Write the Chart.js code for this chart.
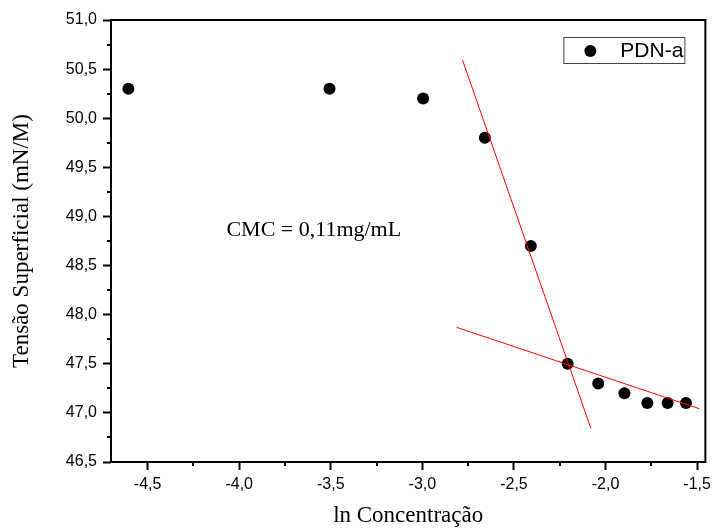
<!DOCTYPE html>
<html>
<head>
<meta charset="utf-8">
<script src="https://cdn.jsdelivr.net/npm/chart.js@4"></script>
<style>
  html, body { margin: 0; padding: 0; background: #fff; }
  #wrap { width: 716px; height: 530px; }
</style>
</head>
<body>
<div id="wrap"><canvas id="c" width="716" height="530"></canvas></div>
<script>
// ln of concentration (mg/mL) and measured surface tension (mN/m)
const lnConcentration = [-4.605, -3.507, -2.996, -2.659, -2.408, -2.207, -2.040, -1.897, -1.772, -1.661, -1.561];
const surfaceTension  = [50.3, 50.3, 50.2, 49.8, 48.7, 47.5, 47.3, 47.2, 47.1, 47.1, 47.1];

// two linear fits whose crossing gives the CMC
const steepFitX   = [-2.781, -2.080];
const steepFitY   = [50.593, 46.842];
const plateauFitX = [-2.813, -1.487];
const plateauFitY = [47.871, 47.042];

const seriesLabel = 'PDN-a';
const cmcLabel = 'CMC = 0,11mg/mL';
const cmcLabelAt = { x: -4.07, y: 48.86 };

const xTitle = 'ln Concentração';
const yTitle = 'Tensão Superficial (mN/M)';

const toXY = (xs, ys) => xs.map((x, i) => ({ x, y: ys[i] }));
const commaFmt = v => Number(v).toFixed(1).replace('.', ',');

// frame, minor ticks, boxed legend and CMC note
const decorations = {
  id: 'decorations',
  afterDraw(chart) {
    const { ctx, chartArea: a, scales } = chart;
    ctx.save();

    // minor ticks halfway between major ticks
    ctx.strokeStyle = '#000';
    ctx.lineWidth = 2;
    const minorLen = 4;
    const minors = (scale) => {
      const vals = scale.ticks.map(t => t.value);
      const out = [];
      if (vals.length < 2) return out;
      const step = vals[1] - vals[0];
      const first = vals[0] - step / 2;
      for (let v = first; v <= scale.max + 1e-9; v += step) {
        if (v >= scale.min - 1e-9) out.push(v);
      }
      return out;
    };
    ctx.beginPath();
    minors(scales.x).forEach(v => {
      const px = Math.round(scales.x.getPixelForValue(v));
      ctx.moveTo(px, a.bottom);
      ctx.lineTo(px, a.bottom + minorLen);
    });
    minors(scales.y).forEach(v => {
      const py = Math.round(scales.y.getPixelForValue(v));
      ctx.moveTo(a.left, py);
      ctx.lineTo(a.left - minorLen, py);
    });
    ctx.stroke();

    // plot frame
    ctx.lineWidth = 2;
    ctx.strokeRect(a.left, a.top, a.right - a.left, a.bottom - a.top);

    // legend box
    const ds = chart.data.datasets.find(d => d.label === seriesLabel);
    ctx.font = '21px "Liberation Sans", Arial, sans-serif';
    const tw = ctx.measureText(ds.label).width;
    const boxRight = a.right - 21;
    const boxTop = a.top + 17;
    const boxH = 26;
    const boxW = tw + 58;
    const boxLeft = boxRight - boxW;
    ctx.lineWidth = 1;
    ctx.strokeStyle = '#444';
    ctx.strokeRect(boxLeft + 0.5, boxTop + 0.5, boxW, boxH);
    ctx.fillStyle = ds.backgroundColor;
    ctx.beginPath();
    ctx.arc(boxLeft + 27, boxTop + boxH / 2 + 1, ds.pointRadius, 0, Math.PI * 2);
    ctx.fill();
    ctx.fillStyle = '#000';
    ctx.textAlign = 'left';
    ctx.textBaseline = 'middle';
    ctx.fillText(ds.label, boxLeft + 57, boxTop + boxH / 2 + 1);

    // CMC note
    ctx.font = '22px "Liberation Serif", "Times New Roman", serif';
    ctx.fillText(cmcLabel, scales.x.getPixelForValue(cmcLabelAt.x), scales.y.getPixelForValue(cmcLabelAt.y));

    ctx.restore();
  }
};

const tickFont = { family: '"Liberation Sans", Arial, sans-serif', size: 16 };
const titleFont = { family: '"Liberation Serif", "Times New Roman", serif', size: 23 };

new Chart(document.getElementById('c'), {
  data: {
    datasets: [
      {
        type: 'line',
        label: 'fit 1',
        data: toXY(steepFitX, steepFitY),
        borderColor: '#ff0000',
        borderWidth: 1,
        pointRadius: 0,
        fill: false,
        tension: 0
      },
      {
        type: 'line',
        label: 'fit 2',
        data: toXY(plateauFitX, plateauFitY),
        borderColor: '#ff0000',
        borderWidth: 1,
        pointRadius: 0,
        fill: false,
        tension: 0
      },
      {
        type: 'scatter',
        label: seriesLabel,
        data: toXY(lnConcentration, surfaceTension),
        backgroundColor: '#000',
        borderColor: '#000',
        borderWidth: 0,
        pointRadius: 6,
        pointHoverRadius: 6
      }
    ]
  },
  options: {
    responsive: false,
    animation: false,
    events: [],
    layout: { padding: { left: 0, top: 20, right: 7, bottom: 0 } },
    plugins: {
      legend: { display: false },
      tooltip: { enabled: false }
    },
    scales: {
      x: {
        type: 'linear',
        position: 'bottom',
        min: -4.7,
        max: -1.455,
        afterFit(s) { s.height = 68; },
        border: { display: false },
        grid: {
          drawOnChartArea: false,
          drawTicks: true,
          tickLength: 8,
          tickColor: '#000',
          tickWidth: 2
        },
        ticks: {
          stepSize: 0.5,
          includeBounds: false,
          color: '#000',
          font: tickFont,
          padding: 5,
          maxRotation: 0,
          callback: v => commaFmt(v)
        },
        title: {
          display: true,
          text: xTitle,
          color: '#000',
          font: titleFont,
          padding: { top: 0, bottom: 0 }
        }
      },
      y: {
        type: 'linear',
        position: 'left',
        min: 46.5,
        max: 51.0,
        afterFit(s) { s.width = 111; },
        border: { display: false },
        grid: {
          drawOnChartArea: false,
          drawTicks: true,
          tickLength: 8,
          tickColor: '#000',
          tickWidth: 2
        },
        ticks: {
          stepSize: 0.5,
          color: '#000',
          font: tickFont,
          padding: 6,
          callback: v => commaFmt(v)
        },
        title: {
          display: true,
          text: yTitle,
          color: '#000',
          font: titleFont,
          padding: { top: 8, bottom: 0 }
        }
      }
    }
  },
  plugins: [decorations]
});
</script>
</body>
</html>
